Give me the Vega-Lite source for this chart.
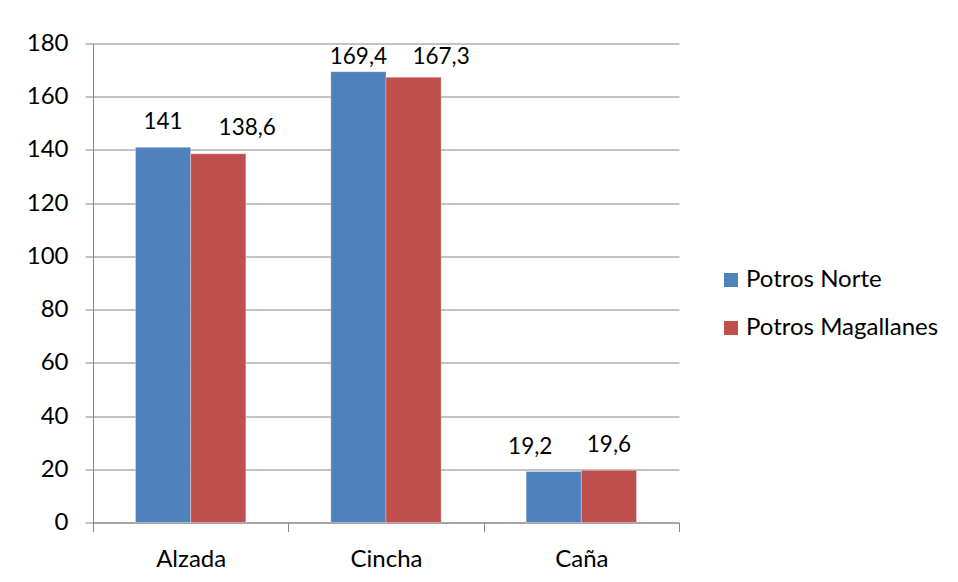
{
  "$schema": "https://vega.github.io/schema/vega-lite/v6.json",
  "width": 586,
  "height": 479,
  "autosize": {"type": "none"},
  "padding": {"left": 93, "top": 43.5, "right": 279, "bottom": 59.5},
  "background": "white",
  "config": {
    "font": "Lato",
    "view": {"stroke": null},
    "text": {"baseline": "alphabetic", "fontSize": 22.5, "color": "#000000"},
    "locale": {"number": {"decimal": ",", "thousands": ".", "grouping": [3], "currency": ["", " €"]}}
  },
  "data": {
    "values": [
      {"medida": "Alzada", "grupo": "Potros Norte", "valor": 141},
      {"medida": "Alzada", "grupo": "Potros Magallanes", "valor": 138.6},
      {"medida": "Cincha", "grupo": "Potros Norte", "valor": 169.4},
      {"medida": "Cincha", "grupo": "Potros Magallanes", "valor": 167.3},
      {"medida": "Caña", "grupo": "Potros Norte", "valor": 19.2},
      {"medida": "Caña", "grupo": "Potros Magallanes", "valor": 19.6}
    ]
  },
  "encoding": {
    "x": {
      "field": "medida",
      "type": "nominal",
      "sort": ["Alzada", "Cincha", "Caña"],
      "scale": {"paddingInner": 0, "paddingOuter": 0},
      "axis": {
        "title": null,
        "labelAngle": 0,
        "labelFontSize": 24,
        "labelColor": "#000000",
        "labelPadding": 16,
        "domainColor": "#868686",
        "domainWidth": 1,
        "tickColor": "#868686",
        "tickSize": 9,
        "tickBand": "extent",
        "grid": false
      }
    },
    "xOffset": {
      "field": "grupo",
      "type": "nominal",
      "sort": ["Potros Norte", "Potros Magallanes"],
      "scale": {"paddingInner": 0, "paddingOuter": 0.77}
    },
    "y": {
      "field": "valor",
      "type": "quantitative",
      "scale": {"domain": [0, 180], "nice": false},
      "axis": {
        "title": null,
        "values": [0, 20, 40, 60, 80, 100, 120, 140, 160, 180],
        "labelFontSize": 24,
        "labelColor": "#000000",
        "labelPadding": 17,
        "domainColor": "#868686",
        "tickColor": "#868686",
        "tickSize": 8,
        "gridColor": "#868686",
        "gridWidth": 1
      }
    }
  },
  "layer": [
    {
      "mark": {"type": "bar", "stroke": "#ffffff", "strokeWidth": 0.5, "strokeOpacity": 0.6},
      "encoding": {
        "color": {
          "field": "grupo",
          "type": "nominal",
          "scale": {"domain": ["Potros Norte", "Potros Magallanes"], "range": ["#4F81BD", "#C0504D"]},
          "legend": {
            "title": null,
            "orient": "none",
            "legendX": 626,
            "legendY": 224.5,
            "padding": 0,
            "symbolType": "square",
            "symbolSize": 196,
            "symbolStrokeWidth": 0,
            "symbolOpacity": 1,
            "labelFontSize": 24,
            "labelColor": "#000000",
            "labelOffset": 3,
            "labelLimit": 0,
            "rowPadding": 24
          }
        }
      }
    },
    {
      "transform": [{"filter": "(datum.medida == 'Alzada' && datum.grupo == 'Potros Norte') || (datum.medida == 'Caña' && datum.grupo == 'Potros Magallanes')"}],
      "mark": {"type": "text", "dy": -18},
      "encoding": {"text": {"field": "valor", "type": "quantitative", "format": "~g"}}
    },
    {
      "transform": [{"filter": "datum.medida == 'Alzada' && datum.grupo == 'Potros Magallanes'"}],
      "mark": {"type": "text", "dy": -18.5, "dx": 29},
      "encoding": {"text": {"field": "valor", "type": "quantitative", "format": "~g"}}
    },
    {
      "transform": [{"filter": "datum.medida == 'Caña' && datum.grupo == 'Potros Norte'"}],
      "mark": {"type": "text", "dy": -17.5, "dx": -23.5},
      "encoding": {"text": {"field": "valor", "type": "quantitative", "format": "~g"}}
    },
    {
      "transform": [{"filter": "datum.medida == 'Cincha' && datum.grupo == 'Potros Norte'"}],
      "mark": {"type": "text", "dy": -8},
      "encoding": {"text": {"field": "valor", "type": "quantitative", "format": "~g"}}
    },
    {
      "transform": [{"filter": "datum.medida == 'Cincha' && datum.grupo == 'Potros Magallanes'"}],
      "mark": {"type": "text", "dy": -13, "dx": 27.5},
      "encoding": {"text": {"field": "valor", "type": "quantitative", "format": "~g"}}
    }
  ]
}
